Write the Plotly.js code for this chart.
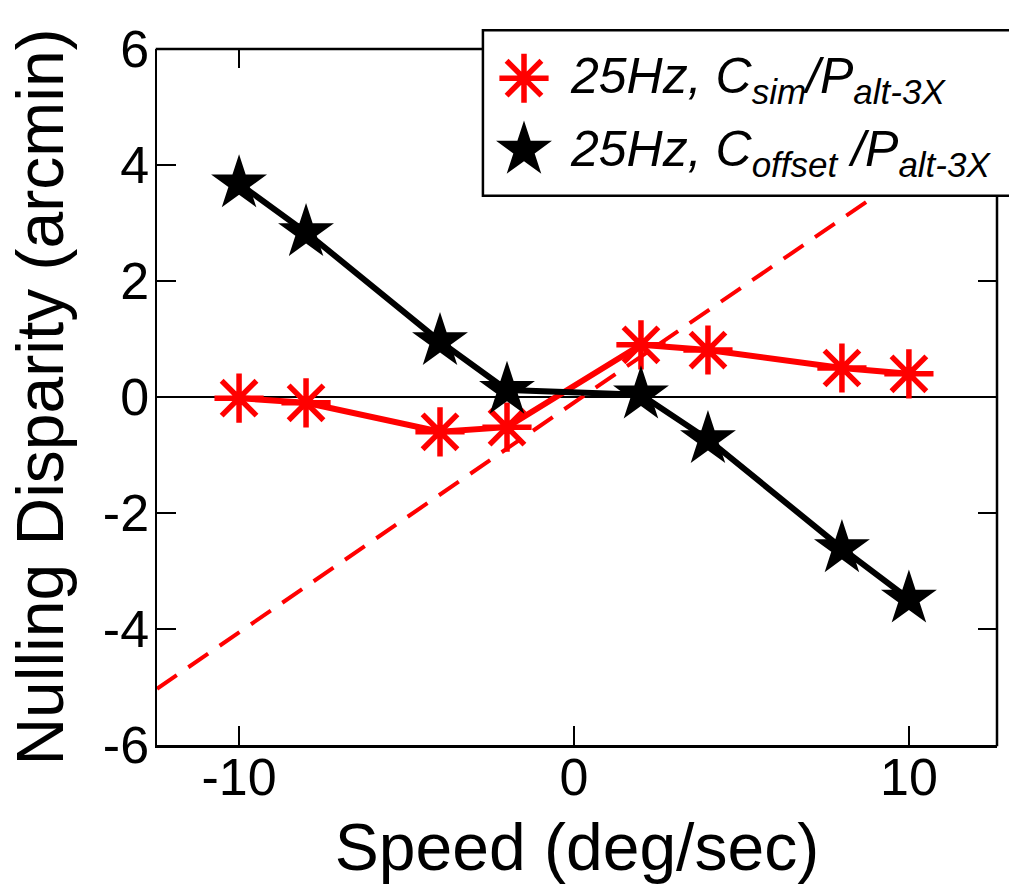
<!DOCTYPE html>
<html>
<head>
<meta charset="utf-8">
<script src="https://cdn.plot.ly/plotly-3.0.1.min.js"></script>
<style>html,body{margin:0;padding:0;background:#fff;}#chart{width:1009px;height:884px;}</style>
</head>
<body>
<div id="chart"></div>
<script>
// Data
const speeds = [-10, -8, -4, -2, 2, 4, 8, 10];
const simDisparity = [-0.02, -0.1, -0.6, -0.52, 0.9, 0.81, 0.5, 0.4];
const offsetDisparity = [3.68, 2.84, 0.96, 0.12, 0.04, -0.73, -2.61, -3.48];
// Dashed red reference line (ends where it meets the legend box)
const refSpeed = [-12.45, 9.0];
const refDisparity = [-5.03, 3.47];
// Labels
const simLabel = '<i>25Hz, C<sub>sim</sub>/P<sub>alt-3X</sub></i>';
const offsetLabel = '<i>25Hz, C<sub>offset</sub> /P<sub>alt-3X</sub></i>';
const xTicks = [-10, 0, 10];
const yTicks = [-6, -4, -2, 0, 2, 4, 6];
const xTitle = 'Speed (deg/sec)';
const yTitle = 'Nulling Disparity (arcmin)';

const RED = '#ff0000';
const FONT = 'Liberation Sans, Arial, Helvetica, sans-serif';

const traces = [
  {x: refSpeed, y: refDisparity, mode: 'lines', type: 'scatter',
   line: {color: RED, width: 4, dash: '24px,14px'}, showlegend: false, hoverinfo: 'skip'},
  {x: speeds, y: simDisparity, mode: 'lines+markers', type: 'scatter',
   line: {color: RED, width: 6},
   marker: {symbol: 'asterisk-open', size: 41, color: RED, line: {color: RED, width: 5.5}},
   showlegend: false},
  {x: speeds, y: offsetDisparity, mode: 'lines+markers', type: 'scatter',
   line: {color: '#000', width: 6},
   marker: {symbol: 'star', size: 42, color: '#000', line: {width: 0}},
   showlegend: false},
  // legend symbols (drawn on a hidden overlay axis pair spanning [0,1])
  {x: [0.4369], y: [0.958], xaxis: 'x3', yaxis: 'y3', mode: 'markers', type: 'scatter',
   marker: {symbol: 'asterisk-open', size: 41, color: RED, line: {color: RED, width: 5.5}},
   showlegend: false, hoverinfo: 'skip'},
  {x: [0.4369], y: [0.855], xaxis: 'x3', yaxis: 'y3', mode: 'markers', type: 'scatter',
   marker: {symbol: 'star', size: 42, color: '#000', line: {width: 0}},
   showlegend: false, hoverinfo: 'skip'},
  // empty trace so the mirrored tick axes exist
  {x: [null], y: [null], xaxis: 'x2', yaxis: 'y2', mode: 'markers', type: 'scatter',
   showlegend: false, hoverinfo: 'skip'}
];

const xRange = [-12.45, 12.63];
const yRange = [-6, 6];

const layout = {
  width: 1009, height: 884,
  margin: {l: 157, r: 12, t: 49, b: 139, pad: 0},
  paper_bgcolor: '#fff', plot_bgcolor: '#fff',
  font: {family: FONT, color: '#000'},
  showlegend: false,
  xaxis: {
    range: xRange, tickvals: xTicks, ticktext: xTicks.map(String),
    ticks: 'inside', ticklen: 19, tickwidth: 2.5, tickcolor: '#000',
    showline: true, linewidth: 2.5, linecolor: '#000', mirror: false,
    showgrid: false, zeroline: false,
    ticklabelstandoff: -15,
    tickfont: {size: 52, family: FONT},
    title: {text: xTitle, font: {size: 66, family: FONT}, standoff: 24}
  },
  yaxis: {
    range: yRange, tickvals: yTicks, ticktext: yTicks.map(String),
    ticks: 'inside', ticklen: 19, tickwidth: 2.5, tickcolor: '#000',
    showline: true, linewidth: 2.5, linecolor: '#000', mirror: false,
    showgrid: false, zeroline: true, zerolinecolor: '#000', zerolinewidth: 2.5,
    ticklabelstandoff: -5,
    tickfont: {size: 52, family: FONT},
    title: {text: yTitle, font: {size: 66, family: FONT}, standoff: 18}
  },
  xaxis2: {
    overlaying: 'x', side: 'top', anchor: 'y', range: xRange,
    tickvals: [-10], ticks: 'inside', ticklen: 19, tickwidth: 2.5, tickcolor: '#000',
    showticklabels: false, showline: false, showgrid: false, zeroline: false
  },
  yaxis2: {
    overlaying: 'y', side: 'right', anchor: 'x', range: yRange,
    tickvals: [-6, -4, -2, 0, 2], ticks: 'inside', ticklen: 19, tickwidth: 2.5, tickcolor: '#000',
    showticklabels: false, showline: false, showgrid: false, zeroline: false
  },
  xaxis3: {overlaying: 'x', range: [0, 1], visible: false, fixedrange: true},
  yaxis3: {overlaying: 'y', range: [0, 1], visible: false, fixedrange: true},
  shapes: [
    // legend box
    {type: 'rect', xref: 'paper', yref: 'paper', x0: 0.388, x1: 1.06, y0: 0.789, y1: 1.027,
     line: {color: '#000', width: 2.5}, fillcolor: '#fff', layer: 'below'},
    // top frame line (left of legend)
    {type: 'line', xref: 'paper', yref: 'paper', x0: -0.0015, x1: 0.388, y0: 1, y1: 1,
     line: {color: '#000', width: 2.5}},
    // right frame line (below legend)
    {type: 'line', xref: 'paper', yref: 'paper', x0: 1, x1: 1, y0: -0.0018, y1: 0.789,
     line: {color: '#000', width: 2.5}}
  ],
  annotations: [
    {text: simLabel, xref: 'paper', yref: 'paper', x: 0.489, y: 0.956,
     xanchor: 'left', yanchor: 'middle', showarrow: false,
     font: {size: 50, family: FONT, color: '#000'}},
    {text: offsetLabel, xref: 'paper', yref: 'paper', x: 0.489, y: 0.852,
     xanchor: 'left', yanchor: 'middle', showarrow: false,
     font: {size: 50, family: FONT, color: '#000'}}
  ]
};

Plotly.newPlot('chart', traces, layout, {displayModeBar: false, staticPlot: true});
</script>
</body>
</html>
